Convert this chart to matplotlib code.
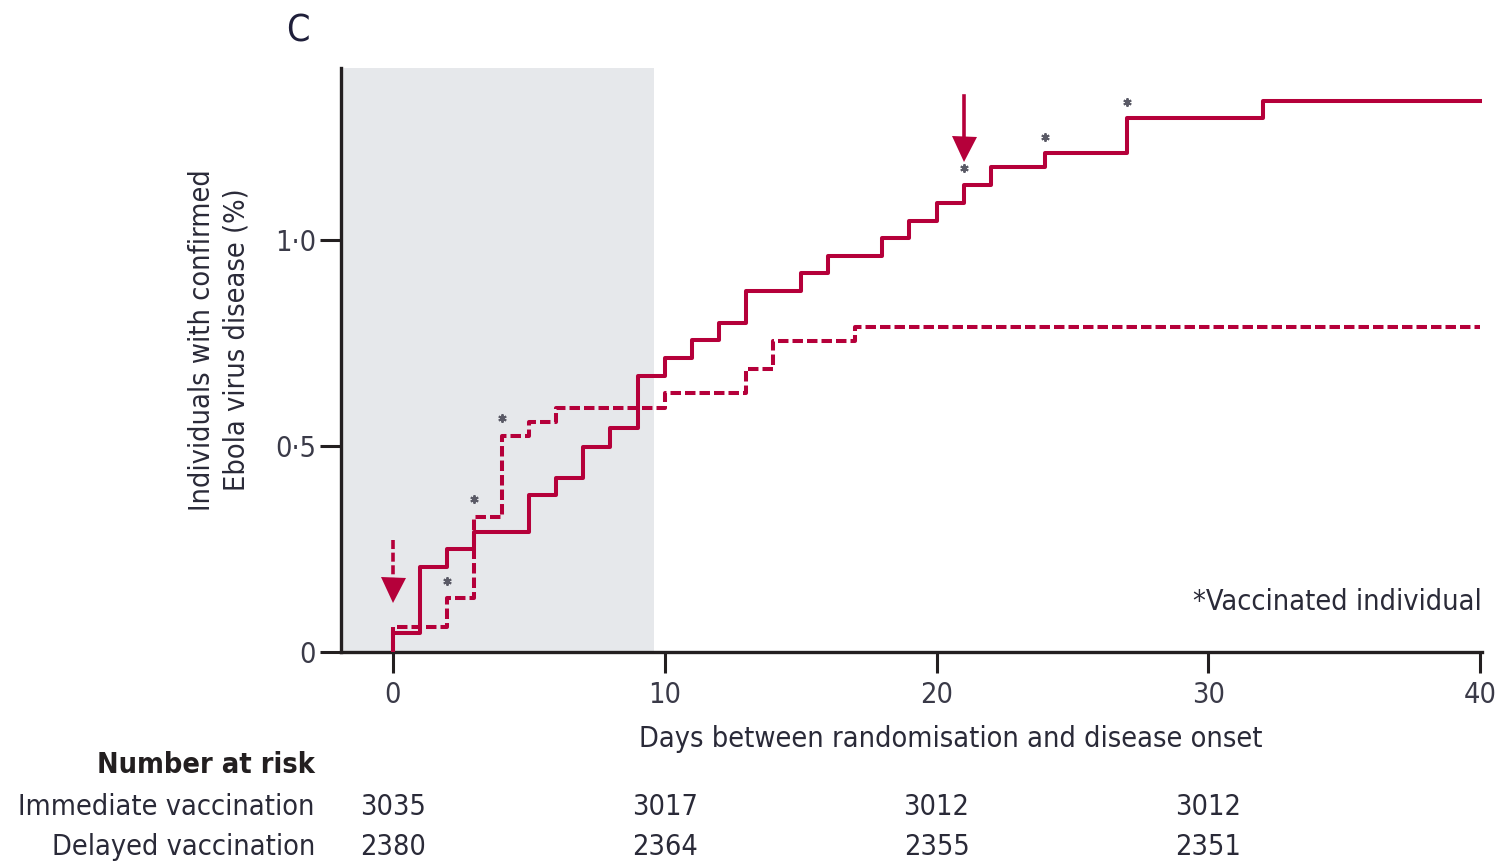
import matplotlib
matplotlib.use("Agg")
import matplotlib.pyplot as plt
from matplotlib import transforms

plt.rcParams["font.family"] = ["DejaVu Sans"]
plt.rcParams["font.stretch"] = "condensed"

# cumulative incidence (%)
days_immediate = [0, 0, 1, 2, 3, 5, 6, 7, 8, 9, 10, 11, 12, 13, 15, 16, 18, 19, 20, 21, 22, 24, 27, 32, 40]
pct_immediate = [0, 0.046, 0.207, 0.250, 0.292, 0.381, 0.423, 0.498, 0.543, 0.671, 0.714, 0.757, 0.799,
                 0.877, 0.921, 0.961, 1.004, 1.047, 1.091, 1.133, 1.176, 1.210, 1.295, 1.338, 1.338]
days_delayed = [0, 0, 2, 3, 4, 5, 6, 10, 13, 14, 17, 40]
pct_delayed = [0, 0.061, 0.130, 0.328, 0.524, 0.559, 0.593, 0.628, 0.686, 0.756, 0.790, 0.790]

# vaccinated individuals
star_days = [2, 3, 4, 21, 24, 27]
star_pct = [0.173, 0.371, 0.567, 1.174, 1.251, 1.336]

# number at risk
risk_days = [0, 10, 20, 30]
risk_immediate = [3035, 3017, 3012, 3012]
risk_delayed = [2380, 2364, 2355, 2351]

red = "#b5003a"
ink = "#231f20"
fs = 20.7

fig = plt.figure(figsize=(14.99, 8.63), dpi=100)
ax = fig.add_axes([0.2275, 0.2445, 0.7612, 0.6767])

ax.axvspan(-1.91, 9.6, color="#e6e8eb", lw=0, zorder=0)

ax.plot(days_delayed, pct_delayed, drawstyle="steps-post", color=red, lw=2.9,
        dashes=(2.6, 1.0), zorder=2)
ax.plot(days_immediate, pct_immediate, drawstyle="steps-post", color=red, lw=2.9, zorder=3)

ax.plot(star_days, star_pct, ls="none", marker=(6, 2, 0), ms=6, mew=1.4, color="#5a5a66", zorder=4)

# randomisation / vaccination arrows
ax.plot([0, 0], [0.272, 0.180], color=red, lw=2.6, dashes=(2.5, 1.0))
ax.plot([0], [0.150], marker="v", ms=18, color=red, mew=0)
ax.plot([21, 21], [1.350, 1.250], color=red, lw=2.6)
ax.plot([21], [1.222], marker="v", ms=18, color=red, mew=0)

ax.set_xlim(-1.91, 40.07)
ax.set_ylim(0, 1.4175)
ax.set_xticks([0, 10, 20, 30, 40])
ax.set_yticks([0, 0.5, 1.0])
ax.set_yticklabels(["0", "0·5", "1·0"])

for s in ["top", "right"]:
    ax.spines[s].set_visible(False)
for s in ["left", "bottom"]:
    ax.spines[s].set_linewidth(2.4)
    ax.spines[s].set_color(ink)
ax.tick_params(length=15, width=2.2, color=ink, labelsize=fs, labelcolor="#3a3a48")
ax.tick_params(axis="x", pad=6)
ax.tick_params(axis="y", pad=3)

ax.set_xlabel("Days between randomisation and disease onset", fontsize=fs, color="#2a2a38")
ax.xaxis.set_label_coords(0.534, -0.125)
ax.set_ylabel("Individuals with confirmed\nEbola virus disease (%)", fontsize=fs, color="#2a2a38",
              linespacing=1.3)
ax.yaxis.label.set_va("center")
ax.yaxis.set_label_coords(-0.107, 0.534)

ax.text(1.0, 0.085, "*Vaccinated individual", transform=ax.transAxes, ha="right", va="center",
        fontsize=fs, color="#2a2a38")

fig.text(298 / 1499, 1 - 32 / 863, "C", fontsize=27, ha="center", va="center", color="#1f1f3a")

# number at risk table
fig.text(315 / 1499, 1 - 765 / 863, "Number at risk", ha="right", va="center", fontsize=fs,
         fontweight="bold", color=ink)
fig.text(315 / 1499, 1 - 807 / 863, "Immediate vaccination", ha="right", va="center", fontsize=fs, color="#2a2a38")
fig.text(315 / 1499, 1 - 847 / 863, "Delayed vaccination", ha="right", va="center", fontsize=fs, color="#2a2a38")
trans = transforms.blended_transform_factory(ax.transData, fig.transFigure)
for d, a, b in zip(risk_days, risk_immediate, risk_delayed):
    ax.text(d, 1 - 807 / 863, str(a), transform=trans, ha="center", va="center", fontsize=fs, color="#2a2a38")
    ax.text(d, 1 - 847 / 863, str(b), transform=trans, ha="center", va="center", fontsize=fs, color="#2a2a38")

fig.savefig("out.png", dpi=100)
